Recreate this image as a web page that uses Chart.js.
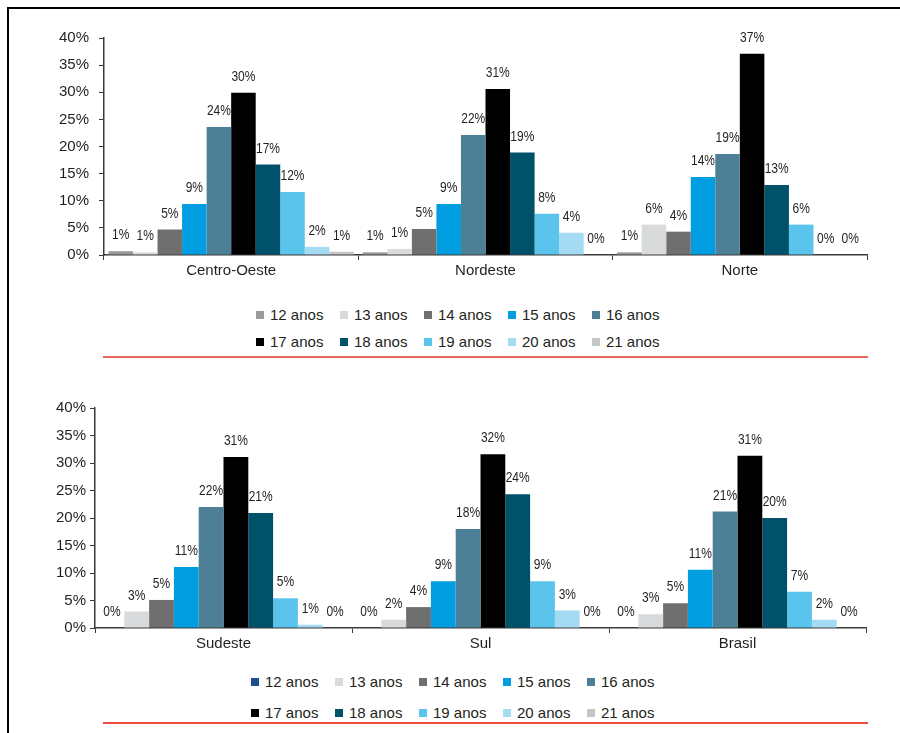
<!DOCTYPE html>
<html>
<head>
<meta charset="utf-8">
<title>Distribuição por idade e região</title>
<script src="https://cdn.jsdelivr.net/npm/chart.js"></script>
<style>
  body { margin: 0; background: #fff; font-family: 'Liberation Sans', Arial, sans-serif; }
  .page { position: relative; width: 900px; height: 733px; overflow: hidden; }
  .frame { position: absolute; left: 7px; top: 7px; width: 900px; height: 740px;
    border-left: 2px solid #000; border-top: 2px solid #000; }
  canvas { position: absolute; left: 0; }
  .legend { position: absolute; display: grid; grid-template-columns: repeat(5, 84px);
    font-size: 15px; color: #231f20; }
  .legend div { display: flex; align-items: center; white-space: nowrap; }
  .legend i { display: inline-block; width: 8px; height: 8px; margin-right: 6px; }
  .rule { position: absolute; left: 103px; width: 765px; height: 2px; }
</style>
</head>
<body>
<div class="page">
  <div class="frame"></div>
  <canvas id="chart1" width="900" height="290" style="top:0"></canvas>
  <div class="legend" id="legend1" style="left:256px; top:301px; grid-auto-rows:27px;"></div>
  <div class="rule" style="top:356px; background:#e8675a;"></div>

  <canvas id="chart2" width="900" height="290" style="top:370px"></canvas>
  <div class="legend" id="legend2" style="left:251px; top:666px; grid-auto-rows:31px;"></div>
  <div class="rule" style="top:722px; background:#ef4a40;"></div>
</div>

<script>
  // categories and series labels
  const topRegions = ['Centro-Oeste', 'Nordeste', 'Norte'];
  const bottomRegions = ['Sudeste', 'Sul', 'Brasil'];
  const ages = ['12 anos', '13 anos', '14 anos', '15 anos', '16 anos',
                '17 anos', '18 anos', '19 anos', '20 anos', '21 anos'];

  // share of each age per region (%), 12 to 21 anos
  const centroOeste = [0.7, 0.5, 4.7, 9.4, 23.6, 29.9, 16.7, 11.6, 1.5, 0.6];
  const nordeste    = [0.5, 1.1, 4.8, 9.4, 22.1, 30.6, 18.9, 7.6, 4.1, 0];
  const norte       = [0.5, 5.6, 4.3, 14.4, 18.6, 37.1, 12.9, 5.6, 0, 0];
  const sudeste     = [0, 3.0, 5.1, 11.1, 22.0, 31.1, 20.9, 5.4, 0.6, 0];
  const sul         = [0, 1.5, 3.8, 8.5, 18.0, 31.6, 24.3, 8.5, 3.2, 0];
  const brasil      = [0, 2.5, 4.5, 10.6, 21.2, 31.3, 20.0, 6.6, 1.5, 0];

  const yTicks = [0, 5, 10, 15, 20, 25, 30, 35, 40];

  const topColors = ['#9a9a9a', '#d9dadb', '#6f6f70', '#009ee0', '#4d8097',
                     '#000000', '#00516a', '#5bc4ec', '#a5daf3', '#c6c6c6'];
  const bottomColors = ['#1f4e8c', '#d9dadb', '#6f6f70', '#009ee0', '#4d8097',
                        '#000000', '#00516a', '#5bc4ec', '#a5daf3', '#c6c6c6'];

  const textColor = '#231f20';
  const axisColor = '#3a3a3a';

  // value labels above each bar (squeezed to look like a narrow face)
  const barLabels = {
    id: 'barLabels',
    afterDatasetsDraw(chart) {
      const ctx = chart.ctx;
      chart.data.datasets.forEach((ds, i) => {
        chart.getDatasetMeta(i).data.forEach((bar, j) => {
          ctx.save();
          ctx.font = '15px "Liberation Sans", Arial, sans-serif';
          ctx.fillStyle = textColor;
          ctx.textAlign = 'center';
          ctx.textBaseline = 'middle';
          ctx.translate(bar.x, bar.y - 16);
          ctx.scale(0.8, 1);
          ctx.fillText(Math.round(ds.data[j]) + '%', 0, 0);
          ctx.restore();
        });
      });
    }
  };

  function createChart(canvasId, regions, rows, colors, pad, yPad) {
    const datasets = ages.map((age, i) => ({
      label: age,
      data: rows.map(r => r[i]),
      backgroundColor: colors[i],
      borderWidth: 0,
      categoryPercentage: 0.965,
      barPercentage: 1
    }));

    return new Chart(document.getElementById(canvasId), {
      type: 'bar',
      data: { labels: regions, datasets: datasets },
      plugins: [barLabels],
      options: {
        responsive: false,
        animation: false,
        layout: { padding: pad },
        plugins: { legend: { display: false }, tooltip: { enabled: false } },
        scales: {
          x: {
            grid: { drawOnChartArea: false, tickLength: 5, color: axisColor },
            border: { color: axisColor, width: 1.5 },
            ticks: { color: textColor, padding: 2, font: { family: "'Liberation Sans', Arial", size: 15 } },
            afterFit: s => { s.height = 25; }
          },
          y: {
            min: 0,
            max: 40,
            afterBuildTicks: s => { s.ticks = yTicks.map(v => ({ value: v })); },
            grid: { drawOnChartArea: false, tickLength: 5, color: axisColor },
            border: { color: axisColor, width: 1.5 },
            ticks: { color: textColor, padding: yPad, callback: v => v + '%',
                     font: { family: "'Liberation Sans', Arial", size: 15 } },
            afterFit: s => { s.width = 60; }
          }
        }
      }
    });
  }

  function buildLegend(id, colors) {
    const box = document.getElementById(id);
    ages.forEach((age, i) => {
      const item = document.createElement('div');
      item.innerHTML = '<i style="background:' + colors[i] + '"></i>' + age;
      box.appendChild(item);
    });
  }

  createChart('chart1', topRegions, [centroOeste, nordeste, norte], topColors,
              { left: 44, right: 33, top: 38, bottom: 10 }, 10);
  createChart('chart2', bottomRegions, [sudeste, sul, brasil], bottomColors,
              { left: 35, right: 34, top: 38, bottom: 7 }, 4);

  buildLegend('legend1', topColors);
  buildLegend('legend2', bottomColors);
</script>
</body>
</html>
